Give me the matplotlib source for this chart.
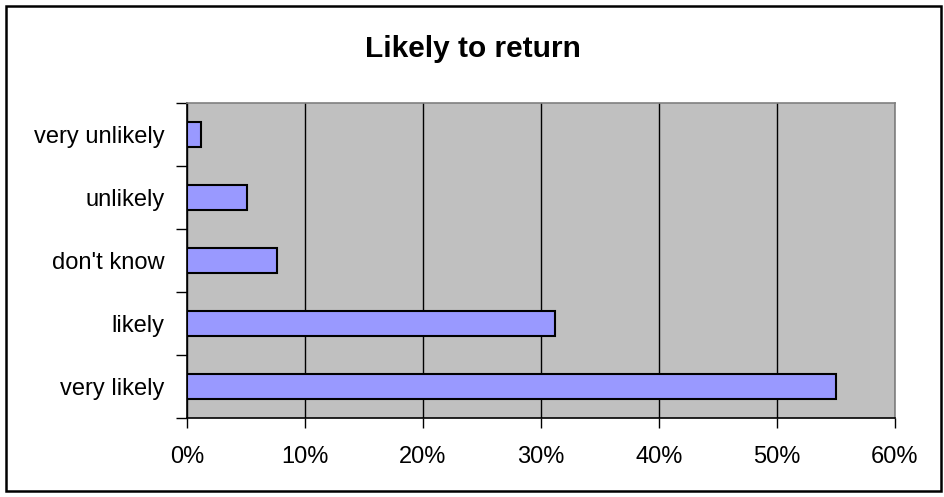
import matplotlib.pyplot as plt
from matplotlib.patches import Rectangle

categories = ["very likely", "likely", "don't know", "unlikely", "very unlikely"]
shares = [55.0, 31.2, 7.6, 5.1, 1.2]
x_ticks = [0, 10, 20, 30, 40, 50, 60]
x_labels = ["0%", "10%", "20%", "30%", "40%", "50%", "60%"]

plt.rcParams['font.family'] = ['Liberation Sans', 'DejaVu Sans']

fig = plt.figure(figsize=(9.45, 4.97), dpi=100)
# outer chart frame
fig.patches.append(Rectangle((6 / 945, 6 / 497), 935 / 945, 485 / 497,
                             transform=fig.transFigure, fill=False,
                             edgecolor="black", linewidth=1.8))

ax = fig.add_axes([187 / 945, 1 - 418 / 497, 708 / 945, 315 / 497])
ax.set_facecolor("#C0C0C0")

ypos = range(len(categories))
ax.barh(ypos, shares, height=0.4, color="#9999FF", edgecolor="black",
        linewidth=1.5, zorder=3)

ax.set_xlim(0, 60)
ax.set_ylim(-0.5, len(categories) - 0.5)
ax.set_xticks(x_ticks)
ax.set_xticklabels(x_labels)
ax.set_yticks([i - 0.5 for i in range(len(categories) + 1)])
ax.set_yticklabels([])
ax.set_yticks(list(ypos), minor=True)
ax.set_yticklabels(categories, minor=True)
ax.tick_params(axis="y", which="minor", length=0, pad=16, labelsize=17)
ax.tick_params(axis="y", which="major", length=8, width=1)
ax.tick_params(axis="x", length=7, width=1, pad=13, labelsize=17)

ax.grid(axis="x", color="black", linewidth=1, zorder=1)
ax.set_axisbelow(True)

ax.spines["left"].set_color("black")
ax.spines["bottom"].set_color("black")
ax.spines["top"].set_color("#808080")
ax.spines["right"].set_color("#808080")
for s in ax.spines.values():
    s.set_linewidth(1.2)

fig.text(0.5, 1 - 57 / 497, "Likely to return", ha="center", va="baseline",
         fontsize=21.5, fontweight="bold")

plt.savefig("out.png", dpi=100)
